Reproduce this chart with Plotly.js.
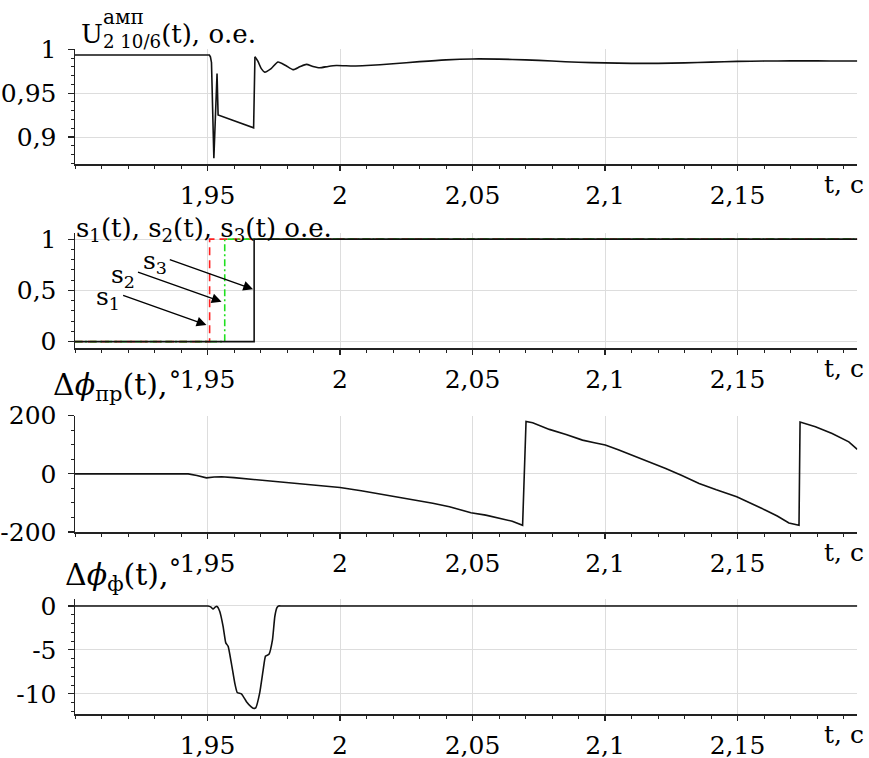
<!DOCTYPE html>
<html>
<head>
<meta charset="utf-8">
<script src="https://cdn.plot.ly/plotly-3.0.1.min.js"></script>
<style>
html,body{margin:0;padding:0;background:#fff}
#plot{width:869px;height:758px}
</style>
</head>
<body>
<div id="plot"></div>
<script>
// ---------- data ----------
const tRange = [1.9, 2.1952];
const xTickVals = [1.95, 2.0, 2.05, 2.1, 2.15];
const xTickText = ['1,95', '2', '2,05', '2,1', '2,15'];

// panel 1: U amplitude (fault part, sharp) and recovery part (smooth)
const tUfault = [1.9, 1.9507, 1.9511, 1.9515, 1.9524, 1.9536, 1.9540, 1.9674, 1.9679];
const vUfault = [0.9935, 0.9935, 0.9915, 0.985, 0.876, 0.9725, 0.9253, 0.9105, 0.9915];
const tUrec = [1.9679, 1.9690, 1.9703, 1.9716, 1.9740, 1.9766, 1.9795, 1.9823, 1.9848, 1.9873, 1.9898,
  1.9923, 1.9955, 1.9986, 2.005, 2.01, 2.02, 2.03, 2.04, 2.05, 2.06, 2.07, 2.08, 2.09, 2.10, 2.11, 2.12,
  2.13, 2.14, 2.15, 2.16, 2.17, 2.18, 2.19, 2.1952];
const vUrec = [0.9915, 0.9865, 0.978, 0.974, 0.978, 0.9855, 0.9815, 0.9768, 0.980, 0.9828, 0.9805,
  0.979, 0.9805, 0.9815, 0.981, 0.9815, 0.9835, 0.9860, 0.9880, 0.9890, 0.9888, 0.9880, 0.9866, 0.9852,
  0.9845, 0.9840, 0.9840, 0.9845, 0.9854, 0.9862, 0.9866, 0.9868, 0.9868, 0.9867, 0.9866];

// panel 2: switching signals
const tS1 = [1.9, 1.9508, 1.9508, 2.1952];
const vS1 = [0, 0, 1, 1];
const tS2 = [1.9, 1.9565, 1.9565, 2.1952];
const vS2 = [0, 0, 1, 1];
const tS3 = [1.9, 1.9676, 1.9676, 2.1952];
const vS3 = [0, 0, 1, 1];
const sLabels = ['s<sub>1</sub>', 's<sub>2</sub>', 's<sub>3</sub>'];
const arrowHeadT = [1.9496, 1.9553, 1.9672];
const arrowHeadV = [0.163, 0.39, 0.512];
const arrowTailT = [1.9176, 1.9232, 1.9352];
const arrowTailV = [0.456, 0.684, 0.805];
const labelT = [1.9124, 1.9181, 1.9301];
const labelV = [0.43, 0.645, 0.775];

// panel 3: phase difference (slip)
const tP = [1.9, 1.9427, 1.9460, 1.9496, 1.9525, 1.9553, 1.9600, 1.9659, 1.9720, 1.9785, 1.985, 1.991, 2.0,
  2.008, 2.0162, 2.0225, 2.0287, 2.035, 2.0413, 2.0494, 2.055, 2.0601, 2.065, 2.0689, 2.0702, 2.0727, 2.079,
  2.0853, 2.0915, 2.096, 2.1001, 2.105, 2.1104, 2.1165, 2.1229, 2.129, 2.1355, 2.142, 2.1497, 2.1606, 2.165,
  2.1694, 2.1732, 2.1736, 2.1794, 2.1857, 2.192, 2.1952];
const vP = [0, 0, -6, -13.8, -11, -10, -13, -18, -22, -27.5, -33, -39, -47,
  -58, -71, -80, -90.5, -101, -113, -134, -142, -154, -163, -177, 180, 175.6, 153,
  135.6, 116, 107, 99, 83, 64, 42, 18.5, -6, -33, -55, -79, -125, -145,
  -169, -177, 178, 162, 139, 110, 84];

// panel 4: phase
const tF = [1.9, 1.93, 1.949, 1.9502, 1.9512, 1.9521, 1.9530, 1.9536, 1.9546, 1.9559, 1.9569, 1.9578, 1.9590, 1.9603,
  1.9612, 1.9628, 1.9647, 1.9665, 1.9672, 1.9682, 1.9697, 1.9710, 1.9719, 1.9732, 1.9745, 1.9754, 1.9762, 1.9768,
  1.978, 1.99, 2.02, 2.06, 2.1, 2.14, 2.1952];
const vF = [0, 0, 0, 0, -0.1, -0.35, -0.1, -0.05, -0.6, -2.35, -4.2, -4.6, -6.5, -8.8,
  -9.85, -10.0, -10.9, -11.5, -11.65, -11.6, -9.9, -7.3, -5.7, -5.5, -3.9, -1.2, -0.2, 0,
  0, 0, 0, 0, 0, 0, 0];

// ---------- layout ----------
const W = 869, H = 758;
const px = v => v / W;
const py = v => 1 - v / H;
const FONT = 'DejaVu Serif';
const tickFont = {family: FONT, size: 25, color: '#000'};
const xDom = [px(75), px(857.3)];
const yDoms = [[py(164.3), py(49.3)], [py(348.3), py(233)], [py(532), py(415.7)], [py(714), py(599.3)]];

function xAxis(i) {
  return {
    domain: xDom, anchor: 'y' + (i === 1 ? '' : i), range: tRange,
    tickmode: 'array', tickvals: xTickVals, ticktext: xTickText,
    showgrid: true, gridcolor: '#dddddd', gridwidth: 1, zeroline: false,
    showline: true, linecolor: '#222', linewidth: 1.5,
    ticks: 'outside', ticklen: 5, tickwidth: 1.2, tickcolor: '#222',
    minor: {tickmode: 'linear', tick0: 1.9, dtick: 0.01, ticks: 'outside', ticklen: 3, tickwidth: 1, tickcolor: '#222', showgrid: false},
    tickfont: tickFont, ticklabelstandoff: 3, fixedrange: true
  };
}
function yAxis(i, range, vals, text, minorD, minor0) {
  return {
    domain: yDoms[i - 1], anchor: 'x' + (i === 1 ? '' : i), range: range,
    tickmode: 'array', tickvals: vals, ticktext: text,
    showgrid: true, gridcolor: '#dddddd', gridwidth: 1, zeroline: false,
    showline: true, linecolor: '#222', linewidth: 1.5,
    ticks: 'outside', ticklen: 6, tickwidth: 1.2, tickcolor: '#222',
    minor: {tickmode: 'linear', tick0: minor0, dtick: minorD, ticks: 'outside', ticklen: 3, tickwidth: 1, tickcolor: '#222', showgrid: false},
    tickfont: tickFont, ticklabelstandoff: 6, fixedrange: true
  };
}

const lineStyle = {color: '#111', width: 1.6};
const smoothStyle = {color: '#111', width: 1.6, shape: 'spline', smoothing: 0.6};
const traces = [
  {x: tUfault, y: vUfault, xaxis: 'x', yaxis: 'y', mode: 'lines', line: lineStyle},
  {x: tUrec, y: vUrec, xaxis: 'x', yaxis: 'y', mode: 'lines', line: smoothStyle},
  {x: tS1, y: vS1, xaxis: 'x2', yaxis: 'y2', mode: 'lines', line: {color: '#ff2020', width: 1.6, dash: '8px,5px'}},
  {x: tS2, y: vS2, xaxis: 'x2', yaxis: 'y2', mode: 'lines', line: {color: '#20e020', width: 1.6, dash: '7px,3px,2px,3px'}},
  {x: tS3, y: vS3, xaxis: 'x2', yaxis: 'y2', mode: 'lines', line: lineStyle},
  {x: tP, y: vP, xaxis: 'x3', yaxis: 'y3', mode: 'lines', line: lineStyle},
  {x: tF, y: vF, xaxis: 'x4', yaxis: 'y4', mode: 'lines', line: {color: '#111', width: 1.6, shape: 'spline', smoothing: 0.4}}
];

const titleFont = {family: FONT, size: 26, color: '#000'};
function paperText(text, x, y, xanchor, yanchor, font) {
  return {text: text, xref: 'paper', yref: 'paper', x: px(x), y: py(y), xanchor: xanchor, yanchor: yanchor,
    showarrow: false, font: font || titleFont};
}
const annotations = [
  paperText('U<sub>2 10/6</sub>(t), о.е.', 79, 35, 'left', 'middle'),
  paperText('амп', 101, 17, 'left', 'middle', {family: FONT, size: 20, color: '#000'}),
  paperText('s<sub>1</sub>(t), s<sub>2</sub>(t), s<sub>3</sub>(t) о.е.', 74, 229, 'left', 'middle'),
  paperText('Δ<i>ϕ</i><sub>пр</sub>(t),', 51, 386, 'left', 'middle', {family: FONT, size: 30, color: '#000'}),
  paperText('°', 174.5, 381, 'center', 'middle', {family: FONT, size: 24, color: '#000'}),
  paperText('Δ<i>ϕ</i><sub>ф</sub>(t),', 63, 576, 'left', 'middle', {family: FONT, size: 30, color: '#000'}),
  paperText('°', 174.5, 569, 'center', 'middle', {family: FONT, size: 24, color: '#000'})
];
[164.3, 348.3, 532, 714].forEach(ax => annotations.push(paperText('t, с', 866, ax + 20, 'right', 'middle', tickFont)));

for (let k = 0; k < 3; k++) {
  annotations.push({
    x: arrowHeadT[k], y: arrowHeadV[k], ax: arrowTailT[k], ay: arrowTailV[k],
    xref: 'x2', yref: 'y2', axref: 'x2', ayref: 'y2', text: '',
    showarrow: true, arrowhead: 2, arrowsize: 1.4, arrowwidth: 1.4, arrowcolor: '#000', standoff: 0
  });
  annotations.push({
    x: labelT[k], y: labelV[k], xref: 'x2', yref: 'y2', text: sLabels[k], showarrow: false,
    xanchor: 'center', yanchor: 'middle', font: tickFont
  });
}

const layout = {
  width: W, height: H, margin: {l: 0, r: 0, t: 0, b: 0},
  paper_bgcolor: '#fff', plot_bgcolor: '#fff', showlegend: false,
  separators: ', ',
  font: {family: FONT, size: 25, color: '#000'},
  xaxis: xAxis(1), xaxis2: xAxis(2), xaxis3: xAxis(3), xaxis4: xAxis(4),
  yaxis: yAxis(1, [0.869, 1.0], [0.9, 0.95, 1], ['0,9', '0,95', '1'], 0.01, 0.87),
  yaxis2: yAxis(2, [-0.065, 1.06], [0, 0.5, 1], ['0', '0,5', '1'], 0.1, 0),
  yaxis3: yAxis(3, [-200, 200], [-200, 0, 200], ['-200', '0', '200'], 50, -200),
  yaxis4: yAxis(4, [-12.3, 0.76], [-10, -5, 0], ['-10', '-5', '0'], 1, -12),
  annotations: annotations
};

Plotly.newPlot('plot', traces, layout, {staticPlot: true, displayModeBar: false});
</script>
</body>
</html>
